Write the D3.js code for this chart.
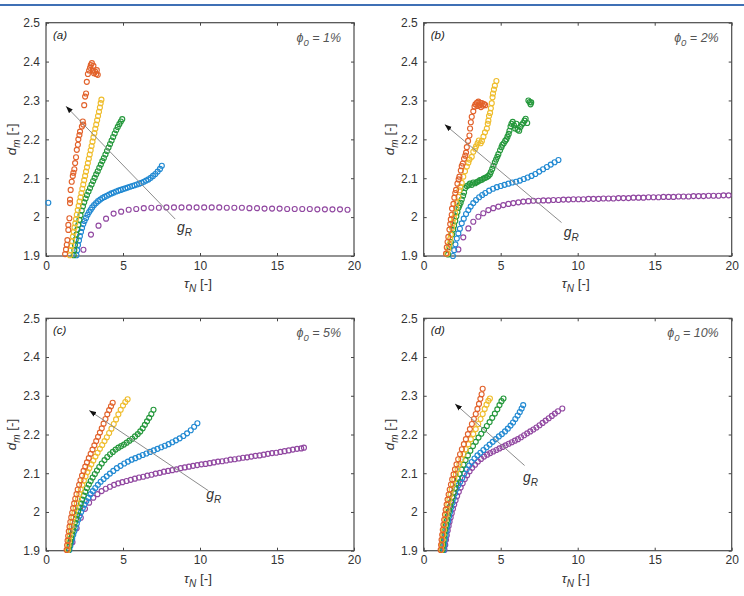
<!DOCTYPE html>
<html>
<head>
<meta charset="utf-8">
<script src="https://cdn.jsdelivr.net/npm/d3@7"></script>
<style>
body { margin: 0; background: #fff; }
text { font-family: "Liberation Sans", Arial, Helvetica, sans-serif; }
</style>
</head>
<body>
<div id="chart"></div>
<script>
///////////// data /////////////
var x_ticks = [0, 5, 10, 15, 20];
var x_tick_labels = ['0', '5', '10', '15', '20'];
var y_ticks = [1.9, 2.0, 2.1, 2.2, 2.3, 2.4, 2.5];
var y_tick_labels = ['1.9', '2', '2.1', '2.2', '2.3', '2.4', '2.5'];
var panel_names = ['(a)', '(b)', '(c)', '(d)'];
var phi_values = ['1%', '2%', '5%', '10%'];
var series_names = ['purple', 'blue', 'green', 'yellow', 'orange'];

// (a) phi0 = 1%
var a_purple = [[2.43,1.916],[2.92,1.955],[3.41,1.978],[3.9,1.996],[4.39,2.009],[4.88,2.014],[5.37,2.019],[5.86,2.021],[6.35,2.023],[6.84,2.024],[7.33,2.024],[7.82,2.025],[8.31,2.025],[8.8,2.025],[9.29,2.025],[9.78,2.025],[10.27,2.025],[10.76,2.025],[11.25,2.025],[11.74,2.024],[12.23,2.024],[12.72,2.024],[13.21,2.023],[13.7,2.023],[14.19,2.022],[14.68,2.022],[15.17,2.022],[15.66,2.021],[16.15,2.021],[16.64,2.021],[17.13,2.021],[17.62,2.02],[18.11,2.02],[18.6,2.02],[19.09,2.02],[19.58,2.019]];
var a_blue = [[0.15,2.037],[1.98,1.902],[2.03,1.915],[2.08,1.928],[2.14,1.94],[2.2,1.951],[2.27,1.962],[2.34,1.972],[2.42,1.982],[2.5,1.99],[2.6,1.998],[2.7,2.006],[2.8,2.013],[2.9,2.019],[3.0,2.025],[3.12,2.031],[3.25,2.036],[3.38,2.041],[3.52,2.045],[3.66,2.049],[3.8,2.052],[3.95,2.055],[4.1,2.058],[4.25,2.061],[4.4,2.063],[4.55,2.066],[4.7,2.068],[4.85,2.07],[5.0,2.072],[5.15,2.074],[5.3,2.076],[5.45,2.078],[5.6,2.08],[5.75,2.082],[5.9,2.084],[6.05,2.086],[6.2,2.088],[6.35,2.091],[6.5,2.094],[6.65,2.097],[6.8,2.101],[6.95,2.106],[7.1,2.111],[7.25,2.117],[7.4,2.124],[7.52,2.132]];
var a_green = [[1.8,1.902],[1.84,1.915],[1.88,1.928],[1.93,1.942],[1.98,1.955],[2.04,1.968],[2.1,1.98],[2.17,1.993],[2.24,2.005],[2.32,2.017],[2.4,2.028],[2.48,2.038],[2.57,2.048],[2.66,2.057],[2.76,2.066],[2.86,2.075],[2.96,2.084],[3.06,2.093],[3.16,2.101],[3.26,2.11],[3.36,2.118],[3.46,2.127],[3.56,2.135],[3.66,2.144],[3.76,2.152],[3.86,2.161],[3.96,2.17],[4.06,2.179],[4.16,2.188],[4.26,2.197],[4.36,2.206],[4.46,2.215],[4.56,2.224],[4.66,2.232],[4.76,2.239],[4.86,2.246],[4.95,2.252]];
var a_yellow = [[1.55,1.902],[1.6,1.915],[1.65,1.926],[1.7,1.938],[1.75,1.95],[1.8,1.962],[1.85,1.973],[1.9,1.984],[1.95,1.995],[2.0,2.006],[2.06,2.018],[2.12,2.029],[2.18,2.04],[2.24,2.051],[2.3,2.062],[2.36,2.073],[2.42,2.084],[2.48,2.095],[2.54,2.106],[2.6,2.117],[2.66,2.128],[2.72,2.139],[2.78,2.15],[2.84,2.161],[2.9,2.172],[2.96,2.183],[3.02,2.194],[3.08,2.205],[3.14,2.216],[3.2,2.227],[3.26,2.238],[3.32,2.249],[3.38,2.26],[3.44,2.271],[3.5,2.282],[3.55,2.293],[3.6,2.302]];
var a_orange = [[1.24,1.905],[1.3,1.917],[1.35,1.929],[1.39,1.941],[1.45,1.967],[1.45,1.98],[1.52,1.997],[1.56,2.036],[1.56,2.045],[1.6,2.07],[1.67,2.091],[1.74,2.106],[1.78,2.114],[1.84,2.123],[1.89,2.139],[1.95,2.154],[2.0,2.173],[2.07,2.186],[2.1,2.2],[2.17,2.211],[2.21,2.22],[2.33,2.233],[2.39,2.246],[2.42,2.238],[2.48,2.288],[2.54,2.31],[2.6,2.318],[2.65,2.348],[2.72,2.368],[2.8,2.377],[2.86,2.384],[2.91,2.391],[2.98,2.396],[3.04,2.377],[3.08,2.389],[3.12,2.37],[3.19,2.374],[3.26,2.368],[3.3,2.378],[3.36,2.366]];

// (b) phi0 = 2%
var b_purple = [[2.25,1.917],[2.57,1.948],[2.9,1.971],[3.22,1.988],[3.55,2.001],[3.87,2.01],[4.2,2.018],[4.52,2.023],[4.85,2.027],[5.17,2.031],[5.5,2.034],[5.82,2.036],[6.15,2.038],[6.47,2.04],[6.8,2.041],[7.12,2.042],[7.45,2.042],[7.77,2.043],[8.1,2.043],[8.42,2.044],[8.75,2.044],[9.07,2.045],[9.4,2.045],[9.72,2.046],[10.05,2.046],[10.37,2.046],[10.7,2.047],[11.02,2.047],[11.35,2.047],[11.67,2.048],[12.0,2.048],[12.32,2.048],[12.65,2.049],[12.97,2.049],[13.3,2.049],[13.62,2.05],[13.95,2.05],[14.27,2.05],[14.6,2.051],[14.92,2.051],[15.25,2.051],[15.57,2.052],[15.9,2.052],[16.22,2.052],[16.55,2.053],[16.87,2.053],[17.2,2.053],[17.52,2.054],[17.85,2.054],[18.17,2.054],[18.5,2.055],[18.82,2.055],[19.15,2.055],[19.47,2.056],[19.8,2.056]];
var b_blue = [[1.9,1.9],[1.98,1.915],[2.06,1.93],[2.15,1.945],[2.25,1.958],[2.35,1.97],[2.47,1.984],[2.6,1.996],[2.75,2.008],[2.9,2.018],[3.05,2.027],[3.22,2.036],[3.4,2.044],[3.6,2.051],[3.8,2.057],[4.0,2.062],[4.25,2.068],[4.5,2.073],[4.75,2.077],[5.0,2.08],[5.25,2.083],[5.5,2.086],[5.75,2.089],[6.0,2.091],[6.25,2.094],[6.5,2.098],[6.75,2.102],[7.0,2.106],[7.25,2.111],[7.5,2.117],[7.75,2.123],[8.0,2.129],[8.25,2.135],[8.5,2.141],[8.75,2.147]];
var b_green = [[1.58,1.904],[1.67,1.923],[1.76,1.936],[1.84,1.955],[1.92,1.968],[1.97,1.978],[2.05,1.99],[2.12,2.002],[2.19,2.013],[2.26,2.024],[2.32,2.03],[2.4,2.037],[2.47,2.045],[2.56,2.055],[2.62,2.063],[2.7,2.075],[2.8,2.08],[2.9,2.082],[3.0,2.086],[3.12,2.083],[3.22,2.089],[3.34,2.087],[3.45,2.09],[3.55,2.092],[3.66,2.095],[3.77,2.096],[3.88,2.099],[3.99,2.101],[4.1,2.103],[4.2,2.106],[4.3,2.11],[4.36,2.116],[4.45,2.124],[4.53,2.132],[4.62,2.141],[4.7,2.148],[4.78,2.155],[4.85,2.162],[4.96,2.172],[5.05,2.18],[5.11,2.186],[5.2,2.19],[5.29,2.196],[5.37,2.2],[5.44,2.207],[5.52,2.214],[5.57,2.222],[5.64,2.233],[5.7,2.24],[5.78,2.245],[5.86,2.236],[5.94,2.228],[6.02,2.24],[6.1,2.225],[6.2,2.222],[6.28,2.232],[6.37,2.238],[6.46,2.242],[6.55,2.248],[6.62,2.253],[6.72,2.242],[6.8,2.3],[6.88,2.296],[6.94,2.29],[6.98,2.295]];
var b_yellow = [[1.53,1.906],[1.6,1.918],[1.67,1.93],[1.72,1.944],[1.76,1.955],[1.84,1.972],[1.89,1.985],[1.96,1.998],[2.04,2.01],[2.1,2.024],[2.15,2.036],[2.25,2.052],[2.32,2.069],[2.38,2.078],[2.47,2.088],[2.57,2.104],[2.68,2.118],[2.8,2.13],[2.9,2.14],[2.97,2.148],[3.12,2.155],[3.22,2.168],[3.34,2.176],[3.4,2.182],[3.5,2.19],[3.58,2.197],[3.7,2.19],[3.78,2.196],[3.88,2.207],[3.98,2.218],[4.1,2.228],[4.16,2.24],[4.2,2.248],[4.24,2.26],[4.31,2.268],[4.36,2.28],[4.42,2.293],[4.47,2.308],[4.5,2.318],[4.56,2.328],[4.62,2.338],[4.72,2.35]];
var b_orange = [[1.45,1.906],[1.5,1.922],[1.55,1.936],[1.6,1.949],[1.67,1.968],[1.72,1.982],[1.76,1.994],[1.82,2.006],[1.84,2.022],[1.93,2.034],[1.99,2.05],[2.05,2.062],[2.1,2.07],[2.19,2.086],[2.27,2.097],[2.32,2.104],[2.41,2.12],[2.47,2.131],[2.54,2.138],[2.62,2.15],[2.7,2.158],[2.75,2.166],[2.8,2.18],[2.88,2.196],[2.97,2.21],[3.01,2.228],[3.06,2.244],[3.12,2.258],[3.22,2.272],[3.3,2.284],[3.36,2.29],[3.45,2.294],[3.55,2.297],[3.49,2.286],[3.62,2.288],[3.66,2.294],[3.77,2.293],[3.84,2.287],[3.72,2.283],[3.92,2.291],[4.0,2.288]];

// (c) phi0 = 5%
var c_purple = [[1.45,1.902],[1.72,1.922],[1.99,1.958],[2.26,1.985],[2.53,2.008],[2.8,2.024],[3.07,2.037],[3.34,2.046],[3.61,2.054],[3.88,2.06],[4.15,2.065],[4.42,2.07],[4.69,2.074],[4.96,2.077],[5.23,2.08],[5.5,2.083],[5.77,2.086],[6.04,2.089],[6.31,2.091],[6.58,2.094],[6.85,2.096],[7.12,2.099],[7.39,2.101],[7.66,2.104],[7.93,2.106],[8.2,2.108],[8.47,2.11],[8.74,2.113],[9.01,2.115],[9.28,2.117],[9.55,2.119],[9.82,2.121],[10.09,2.123],[10.36,2.124],[10.63,2.126],[10.9,2.128],[11.17,2.13],[11.44,2.131],[11.71,2.133],[11.98,2.135],[12.25,2.136],[12.52,2.138],[12.79,2.14],[13.06,2.141],[13.33,2.143],[13.6,2.145],[13.87,2.146],[14.14,2.148],[14.41,2.15],[14.68,2.152],[14.95,2.153],[15.22,2.155],[15.49,2.157],[15.76,2.159],[16.03,2.161],[16.3,2.163],[16.57,2.164],[16.75,2.166]];
var c_blue = [[1.52,1.902],[1.58,1.912],[1.64,1.922],[1.7,1.931],[1.77,1.941],[1.84,1.95],[1.92,1.96],[2.0,1.97],[2.09,1.98],[2.18,1.99],[2.28,2.0],[2.39,2.01],[2.5,2.019],[2.62,2.028],[2.75,2.037],[2.89,2.046],[3.04,2.054],[3.2,2.062],[3.37,2.07],[3.55,2.078],[3.74,2.085],[3.94,2.092],[4.15,2.099],[4.37,2.106],[4.6,2.113],[4.84,2.119],[5.08,2.125],[5.32,2.13],[5.56,2.135],[5.8,2.139],[6.04,2.143],[6.28,2.147],[6.52,2.151],[6.76,2.155],[7.0,2.159],[7.24,2.163],[7.48,2.167],[7.72,2.171],[7.96,2.175],[8.2,2.18],[8.44,2.185],[8.68,2.19],[8.92,2.196],[9.16,2.203],[9.4,2.211],[9.62,2.22],[9.83,2.229]];
var c_green = [[1.47,1.902],[1.52,1.912],[1.57,1.922],[1.62,1.932],[1.68,1.942],[1.74,1.952],[1.8,1.962],[1.87,1.972],[1.94,1.982],[2.01,1.992],[2.09,2.002],[2.17,2.012],[2.26,2.022],[2.35,2.032],[2.45,2.042],[2.55,2.052],[2.66,2.062],[2.78,2.071],[2.9,2.08],[3.03,2.089],[3.17,2.098],[3.31,2.107],[3.46,2.116],[3.62,2.125],[3.8,2.134],[3.98,2.142],[4.16,2.149],[4.34,2.155],[4.52,2.161],[4.7,2.166],[4.88,2.17],[5.06,2.174],[5.24,2.179],[5.42,2.184],[5.6,2.189],[5.78,2.195],[5.96,2.201],[6.12,2.208],[6.28,2.216],[6.42,2.225],[6.56,2.234],[6.7,2.243],[6.84,2.253],[6.98,2.264]];
var c_yellow = [[1.42,1.902],[1.46,1.914],[1.5,1.926],[1.55,1.938],[1.6,1.95],[1.66,1.962],[1.72,1.974],[1.78,1.986],[1.85,1.998],[1.92,2.01],[2.0,2.022],[2.08,2.034],[2.17,2.046],[2.26,2.058],[2.36,2.07],[2.46,2.081],[2.57,2.092],[2.69,2.103],[2.81,2.113],[2.94,2.123],[3.07,2.133],[3.21,2.143],[3.35,2.153],[3.5,2.163],[3.65,2.173],[3.8,2.183],[3.95,2.193],[4.1,2.204],[4.25,2.215],[4.4,2.227],[4.55,2.239],[4.7,2.252],[4.85,2.264],[5.0,2.275],[5.15,2.284],[5.3,2.291]];
var c_orange = [[1.34,1.902],[1.37,1.914],[1.4,1.926],[1.44,1.938],[1.48,1.95],[1.53,1.962],[1.58,1.974],[1.64,1.986],[1.7,1.998],[1.76,2.01],[1.83,2.022],[1.9,2.034],[1.98,2.046],[2.06,2.058],[2.15,2.07],[2.24,2.082],[2.34,2.094],[2.44,2.106],[2.55,2.117],[2.66,2.128],[2.78,2.139],[2.9,2.15],[3.02,2.161],[3.14,2.172],[3.26,2.183],[3.38,2.194],[3.5,2.205],[3.62,2.216],[3.74,2.228],[3.86,2.24],[3.98,2.252],[4.1,2.263],[4.22,2.273],[4.33,2.282]];

// (d) phi0 = 10%
var d_purple = [[1.35,1.902],[1.4,1.915],[1.45,1.928],[1.5,1.94],[1.56,1.952],[1.62,1.964],[1.68,1.975],[1.75,1.986],[1.82,1.997],[1.9,2.008],[1.98,2.019],[2.07,2.03],[2.17,2.041],[2.28,2.052],[2.4,2.063],[2.53,2.074],[2.67,2.085],[2.82,2.095],[2.98,2.105],[3.15,2.114],[3.33,2.122],[3.52,2.13],[3.72,2.137],[3.92,2.143],[4.12,2.148],[4.32,2.152],[4.52,2.156],[4.72,2.16],[4.92,2.164],[5.12,2.168],[5.32,2.172],[5.52,2.176],[5.72,2.18],[5.92,2.184],[6.12,2.188],[6.32,2.193],[6.52,2.198],[6.72,2.203],[6.92,2.208],[7.12,2.213],[7.32,2.218],[7.52,2.224],[7.72,2.23],[7.92,2.236],[8.12,2.242],[8.32,2.248],[8.52,2.254],[8.72,2.26],[9.0,2.267]];
var d_blue = [[1.3,1.902],[1.34,1.915],[1.38,1.928],[1.43,1.94],[1.48,1.952],[1.53,1.964],[1.59,1.976],[1.65,1.988],[1.72,2.0],[1.79,2.012],[1.87,2.024],[1.95,2.036],[2.04,2.048],[2.14,2.06],[2.25,2.069],[2.37,2.078],[2.5,2.088],[2.64,2.099],[2.79,2.11],[2.95,2.12],[3.12,2.129],[3.3,2.138],[3.49,2.146],[3.68,2.153],[3.88,2.16],[4.08,2.167],[4.28,2.174],[4.48,2.181],[4.68,2.188],[4.88,2.195],[5.08,2.201],[5.28,2.208],[5.46,2.215],[5.64,2.223],[5.8,2.231],[5.95,2.24],[6.1,2.249],[6.24,2.258],[6.36,2.267],[6.46,2.276]];
var d_green = [[1.22,1.902],[1.26,1.915],[1.3,1.928],[1.35,1.941],[1.4,1.954],[1.45,1.966],[1.51,1.978],[1.57,1.99],[1.64,2.002],[1.71,2.014],[1.78,2.026],[1.86,2.038],[1.94,2.05],[2.03,2.062],[2.12,2.074],[2.22,2.086],[2.33,2.098],[2.45,2.11],[2.58,2.122],[2.72,2.134],[2.87,2.146],[3.03,2.158],[3.2,2.17],[3.38,2.181],[3.56,2.192],[3.74,2.202],[3.92,2.212],[4.1,2.222],[4.28,2.232],[4.45,2.243],[4.62,2.254],[4.78,2.265],[4.92,2.276],[5.05,2.286],[5.18,2.293]];
var d_yellow = [[1.15,1.902],[1.19,1.915],[1.23,1.928],[1.27,1.941],[1.32,1.954],[1.37,1.967],[1.42,1.98],[1.48,1.993],[1.54,2.006],[1.6,2.019],[1.67,2.032],[1.74,2.045],[1.82,2.058],[1.9,2.071],[1.99,2.084],[2.09,2.097],[2.2,2.11],[2.32,2.123],[2.45,2.136],[2.59,2.149],[2.74,2.162],[2.9,2.175],[3.06,2.188],[3.22,2.201],[3.38,2.214],[3.54,2.227],[3.69,2.24],[3.83,2.253],[3.96,2.266],[4.08,2.277],[4.2,2.287],[4.3,2.293]];
var d_orange = [[1.1,1.902],[1.13,1.915],[1.16,1.928],[1.2,1.941],[1.24,1.954],[1.28,1.967],[1.33,1.98],[1.38,1.993],[1.43,2.006],[1.49,2.019],[1.55,2.032],[1.62,2.045],[1.69,2.058],[1.77,2.071],[1.85,2.084],[1.94,2.097],[2.03,2.11],[2.13,2.123],[2.24,2.136],[2.36,2.149],[2.48,2.162],[2.61,2.175],[2.74,2.188],[2.87,2.201],[3.0,2.214],[3.13,2.227],[3.26,2.24],[3.38,2.253],[3.49,2.266],[3.59,2.279],[3.68,2.292],[3.76,2.304],[3.83,2.318]];

// g_R arrows [tail x, tail y, head x, head y] and label anchor, in data units
var arrows = [[8.39,1.995,1.3,2.285],[8.95,1.986,1.37,2.238],[10.54,2.055,2.81,2.262],[6.55,2.12,2.04,2.279]];
var gR_labels = [[8.5,1.962],[9.1,1.948],[10.4,2.033],[6.45,2.078]];

///////////// layout /////////////
var colors = {purple:'#9148a1', blue:'#2189d2', green:'#25983c', yellow:'#efbd2d', orange:'#e2622b'};
var panel_w = 308;
var boxes = [
  {left:46,    top:22.7,  h:233.3},
  {left:423.7, top:22.7,  h:233.3},
  {left:46,    top:318.3, h:232.4},
  {left:423.7, top:318.3, h:232.4}
];
var panel_series = [
  [a_purple, a_blue, a_green, a_yellow, a_orange],
  [b_purple, b_blue, b_green, b_yellow, b_orange],
  [c_purple, c_blue, c_green, c_yellow, c_orange],
  [d_purple, d_blue, d_green, d_yellow, d_orange]
];

var svg = d3.select('#chart').append('svg')
  .attr('width', 744).attr('height', 596);

// journal rule at the top
svg.append('line').attr('x1', 0).attr('x2', 744).attr('y1', 5).attr('y2', 5)
  .attr('stroke', '#3f70b5').attr('stroke-width', 2);

svg.append('defs').append('marker')
  .attr('id', 'head').attr('markerUnits', 'userSpaceOnUse')
  .attr('markerWidth', 8).attr('markerHeight', 6)
  .attr('refX', 7).attr('refY', 3).attr('orient', 'auto')
  .append('path').attr('d', 'M0,0.4 L7,3 L0,5.6 Z').attr('fill', '#111');

boxes.forEach(function(b, i) {
  var g = svg.append('g').attr('transform', 'translate(' + b.left + ',' + b.top + ')');
  var x = d3.scaleLinear().domain([0, 20]).range([0, panel_w]);
  var y = d3.scaleLinear().domain([1.9, 2.5]).range([b.h, 0]);

  // axes: ticks point inward on all four sides
  g.append('g').attr('transform', 'translate(0,' + b.h + ')')
    .call(d3.axisBottom(x).tickValues(x_ticks).tickSizeInner(-3).tickSizeOuter(0).tickPadding(5)
      .tickFormat(function(d, k) { return x_tick_labels[k]; }));
  g.append('g')
    .call(d3.axisLeft(y).tickValues(y_ticks).tickSizeInner(-3).tickSizeOuter(0).tickPadding(6)
      .tickFormat(function(d, k) { return y_tick_labels[k]; }));
  g.append('g').call(d3.axisTop(x).tickValues(x_ticks).tickSizeInner(-3).tickSizeOuter(0).tickFormat(''));
  g.append('g').attr('transform', 'translate(' + panel_w + ',0)')
    .call(d3.axisRight(y).tickValues(y_ticks).tickSizeInner(-3).tickSizeOuter(0).tickFormat(''));
  g.selectAll('.domain').remove();
  g.selectAll('.tick line').attr('stroke', '#444');
  g.selectAll('.tick text').attr('fill', '#333').style('font-size', '12px');

  g.append('rect').attr('width', panel_w).attr('height', b.h)
    .attr('fill', 'none').attr('stroke', '#4a4a4a').attr('stroke-width', 1.2);

  // scatter series, orange drawn last
  panel_series[i].forEach(function(s, k) {
    g.append('g').selectAll('circle').data(s).enter().append('circle')
      .attr('cx', function(d) { return x(d[0]); })
      .attr('cy', function(d) { return y(d[1]); })
      .attr('r', 2.5)
      .attr('fill', 'none')
      .attr('stroke', colors[series_names[k]])
      .attr('stroke-width', 1.15);
  });

  // g_R arrow
  var ar = arrows[i];
  g.append('line')
    .attr('x1', x(ar[0])).attr('y1', y(ar[1]))
    .attr('x2', x(ar[2])).attr('y2', y(ar[3]))
    .attr('stroke', '#8c8c8c').attr('stroke-width', 1)
    .attr('marker-end', 'url(#head)');
  var gl = g.append('text').attr('x', x(gR_labels[i][0])).attr('y', y(gR_labels[i][1]))
    .attr('fill', '#333').style('font-size', '14px').style('font-style', 'italic');
  gl.append('tspan').text('g');
  gl.append('tspan').attr('dy', 4).style('font-size', '10px').text('R');

  // panel letter and phi0
  g.append('text').attr('x', 7).attr('y', 16).attr('fill', '#222')
    .style('font-size', '11.5px').style('font-style', 'italic').text(panel_names[i]);
  var ph = g.append('text').attr('x', panel_w - 13).attr('y', 19).attr('text-anchor', 'end')
    .attr('fill', '#555').style('font-size', '12.5px').style('font-style', 'italic');
  ph.append('tspan').text('\u03d5');
  ph.append('tspan').attr('dy', 4).style('font-size', '9.5px').text('0');
  ph.append('tspan').attr('dy', -4).text(' = ' + phi_values[i]);

  // axis titles
  var xt = g.append('text').attr('x', panel_w / 2 - 2).attr('y', b.h + 32)
    .attr('text-anchor', 'middle').attr('fill', '#333').style('font-size', '13.5px');
  xt.append('tspan').style('font-style', 'italic').text('\u03c4');
  xt.append('tspan').attr('dy', 4).style('font-size', '10px').style('font-style', 'italic').text('N');
  xt.append('tspan').attr('dy', -4).text('  [-]');

  var yt = g.append('text').attr('transform', 'translate(-30,' + (b.h / 2) + ') rotate(-90)')
    .attr('text-anchor', 'middle').attr('fill', '#333').style('font-size', '13.5px');
  yt.append('tspan').style('font-style', 'italic').text('d');
  yt.append('tspan').attr('dy', 4).style('font-size', '10px').style('font-style', 'italic').text('m');
  yt.append('tspan').attr('dy', -4).text('  [-]');
});
</script>
</body>
</html>
